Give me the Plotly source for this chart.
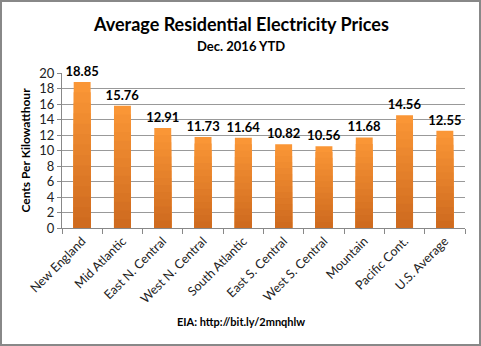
import plotly.graph_objects as go

categories = ["New England", "Mid Atlantic", "East N. Central", "West N. Central",
              "South Atlantic", "East S. Central", "West S. Central", "Mountain",
              "Pacific Cont.", "U.S. Average"]
prices = [18.85, 15.76, 12.91, 11.73, 11.64, 10.82, 10.56, 11.68, 14.56, 12.55]
y_ticks = [0, 2, 4, 6, 8, 10, 12, 14, 16, 18, 20]

W, H = 481, 346
ml, mr, mt, mb = 62, 16, 73, 118
pw, ph = W - ml - mr, H - mt - mb

top = (250, 150, 54)
bot = (204, 104, 30)
N = 14

fig = go.Figure()
for k in range(N):
    f = k / N
    c = tuple(int(top[i] + (bot[i] - top[i]) * f) for i in range(3))
    frac = 1 - f
    trace = dict(
        x=categories,
        y=[v * frac for v in prices],
        marker=dict(color="rgb(%d,%d,%d)" % c, line=dict(width=0)),
        hoverinfo="skip" if k else None,
        showlegend=False,
    )
    if k == 0:
        trace.update(text=["%.2f" % v for v in prices], textposition="outside",
                     constraintext="none",
                     textfont=dict(family="Lato", size=13, color="#000", weight="bold"),
                     cliponaxis=False)
    fig.add_trace(go.Bar(**trace))

fig.update_layout(
    width=W, height=H,
    margin=dict(l=ml, r=mr, t=mt, b=mb),
    barmode="overlay",
    bargap=0.58,
    plot_bgcolor="white",
    paper_bgcolor="white",
    font=dict(family="Lato", color="#222"),
    xaxis=dict(
        type="category",
        tickangle=-45,
        tickfont=dict(size=12.5, color="#222"),
        showline=True, linecolor="#888", linewidth=1,
        ticks="outside", tickson="boundaries", ticklen=5, tickcolor="#888",
        showgrid=False,
    ),
    yaxis=dict(
        range=[0, 20],
        tickvals=y_ticks,
        tickfont=dict(size=13, color="#222"),
        showline=True, linecolor="#888", linewidth=1,
        ticks="outside", ticklen=4, tickcolor="#888",
        showgrid=True, gridcolor="#999", gridwidth=1,
        zeroline=False,
        title=dict(text="<b>Cents Per Kilowatthour</b>", font=dict(size=12, color="#000"), standoff=6),
    ),
    annotations=[
        dict(text="<b>Average Residential Electricity Prices</b>", x=0.5, y=24, xref="paper",
             yref="paper", showarrow=False, font=dict(size=18, color="#000")),
        dict(text="<b>Dec. 2016 YTD</b>", x=0.5, y=46, xref="paper", yref="paper",
             showarrow=False, font=dict(size=13, color="#000")),
        dict(text="<b>EIA: http://bit.ly/2mnqhlw</b>", x=0.5, y=321, xref="paper", yref="paper",
             showarrow=False, font=dict(size=11, color="#000")),
    ],
)

# convert pixel y positions of annotations to paper coordinates
for a in fig.layout.annotations:
    px_y = a.y
    a.y = 1 - (px_y - mt) / ph
    a.x = (W / 2 - ml) / pw
    a.yanchor = "middle"

fig.add_shape(type="rect", xref="paper", yref="paper",
              x0=-(ml - 1) / pw, x1=1 + (mr - 1) / pw,
              y0=-(mb - 1) / ph, y1=1 + (mt - 1) / ph,
              line=dict(color="#888", width=2), layer="above")

fig.write_html("out.html")
